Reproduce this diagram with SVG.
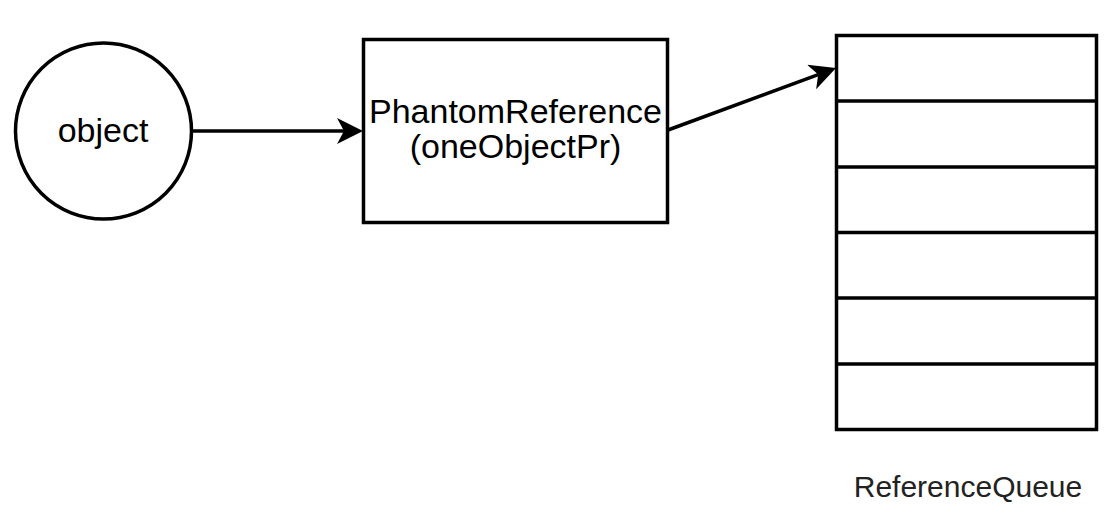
<svg xmlns="http://www.w3.org/2000/svg" width="1105" height="509" viewBox="0 0 1105 509">
<style>
.shape{fill:#fff;stroke:#000;stroke-width:3.5}
.row{fill:none;stroke:#000;stroke-width:3.5}
.lbl{font-family:"Liberation Sans",Arial,sans-serif;font-size:34px;fill:#000;text-anchor:middle}
.cap{font-family:"Liberation Sans",Arial,sans-serif;font-size:30px;fill:#222;text-anchor:middle}
.edge{fill:none;stroke:#000;stroke-width:3.5}
</style>
<defs>
<marker id="arr" markerUnits="userSpaceOnUse" markerWidth="30" markerHeight="30" viewBox="0 0 30 30" refX="7" refY="13" orient="auto">
<path d="M0,0 L26,13 L0,26 L7,13 Z" fill="#000"/>
</marker>
</defs>
<rect width="1105" height="509" fill="#fff"/>
<g id="object">
<circle class="shape" cx="103.5" cy="131" r="88"/>
<text class="lbl" x="103" y="142">object</text>
</g>
<g id="phantom">
<rect class="shape" x="363.5" y="39.5" width="304" height="183"/>
<text class="lbl" x="515.5" y="123">PhantomReference</text>
<text class="lbl" x="515.5" y="158">(oneObjectPr)</text>
</g>
<g id="queue">
<rect class="shape" x="836.5" y="35.5" width="260" height="394"/>
<line class="row" x1="836" y1="101" x2="1097" y2="101"/>
<line class="row" x1="836" y1="167" x2="1097" y2="167"/>
<line class="row" x1="836" y1="232.5" x2="1097" y2="232.5"/>
<line class="row" x1="836" y1="298" x2="1097" y2="298"/>
<line class="row" x1="836" y1="364" x2="1097" y2="364"/>
<text class="cap" x="968" y="497">ReferenceQueue</text>
</g>
<g id="connectors">
<line class="edge" x1="192" y1="131" x2="344" y2="131" marker-end="url(#arr)"/>
<line class="edge" x1="668" y1="130" x2="818.2" y2="74.6" marker-end="url(#arr)"/>
</g>
</svg>
